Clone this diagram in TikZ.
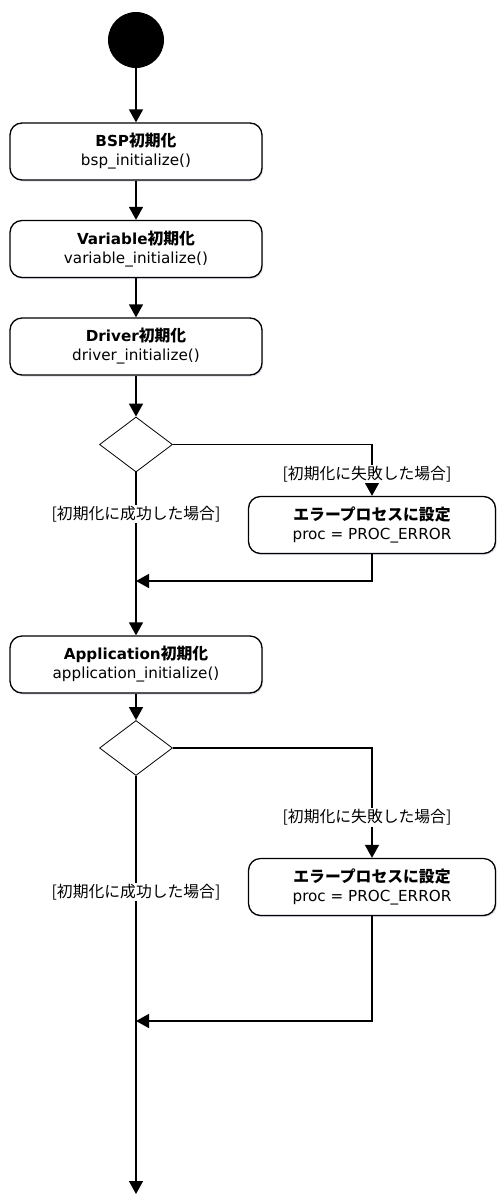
\documentclass[tikz,border=0pt]{standalone}
\usepackage{fontspec}
\setmainfont{DejaVu Sans}
\newfontfamily\jp{Noto Sans CJK JP}[Scale=1.04]
\usetikzlibrary{shapes.geometric,arrows.meta,shadows}
\begin{document}
\begin{tikzpicture}[x=1pt,y=-1pt,
  every node/.style={font=\fontsize{15.2}{19}\selectfont},
  actbox/.style={draw, line width=1.3pt, rounded corners=12pt, fill=white,
    minimum height=57pt, align=center, inner sep=0pt,
    drop shadow={shadow xshift=1.2pt, shadow yshift=-1.5pt, opacity=0.35, fill=blue!25!gray!60}},
  mainbox/.style={actbox, minimum width=252pt},
  errbox/.style={actbox, minimum width=247pt},
  decision/.style={draw, diamond, line width=0.8pt, aspect=1.327, minimum width=73pt, minimum height=55pt, inner sep=0pt, fill=white},
  flow/.style={line width=1.5pt, -{Triangle[length=13pt,width=14pt]}},
  guard/.style={fill=white, inner sep=1.5pt}
]
\useasboundingbox (0,0) rectangle (497,1194);
\node[circle, fill=black, minimum size=56pt, inner sep=0pt] (start) at (136,40) {};
\node[mainbox] (bsp) at (136,151.5) {\textbf{BSP{\jp 初期化}}\\bsp\_initialize()};
\node[mainbox] (var) at (136,249) {\textbf{Variable{\jp 初期化}}\\variable\_initialize()};
\node[mainbox] (drv) at (136,346.5) {\textbf{Driver{\jp 初期化}}\\driver\_initialize()};
\node[decision] (d1) at (136,444.5) {};
\node[errbox] (e1) at (372,525) {\textbf{\jp エラープロセスに設定}\\proc = PROC\_ERROR};
\coordinate (m1) at (136,581);
\node[mainbox] (app) at (136,664.5) {\textbf{Application{\jp 初期化}}\\application\_initialize()};
\node[decision] (d2) at (136,748) {};
\node[errbox] (e2) at (372,887) {\textbf{\jp エラープロセスに設定}\\proc = PROC\_ERROR};
\coordinate (m2) at (136,1021);
\coordinate (end) at (136,1194);

\draw[flow] (start) -- (bsp);
\draw[flow] (bsp) -- (var);
\draw[flow] (var) -- (drv);
\draw[flow] (drv) -- (d1);
\draw[flow] (d1.east) -| (e1.north);
\draw[flow] (d1.south) -- (app.north);
\draw[flow] (e1.south) |- (m1);
\draw[flow] (app) -- (d2);
\draw[flow] (d2.east) -| (e2.north);
\draw[flow] (d2.south) -- (end);
\draw[flow] (e2.south) |- (m2);

\node[guard] (g1) at (367,474) {{\jp [初期化に失敗した場合]}};
\node[guard] (s1) at (136,514) {{\jp [初期化に成功した場合]}};
\node[guard] (g2) at (367,817) {{\jp [初期化に失敗した場合]}};
\node[guard] (s2) at (136,892) {{\jp [初期化に成功した場合]}};
\end{tikzpicture}
\end{document}
